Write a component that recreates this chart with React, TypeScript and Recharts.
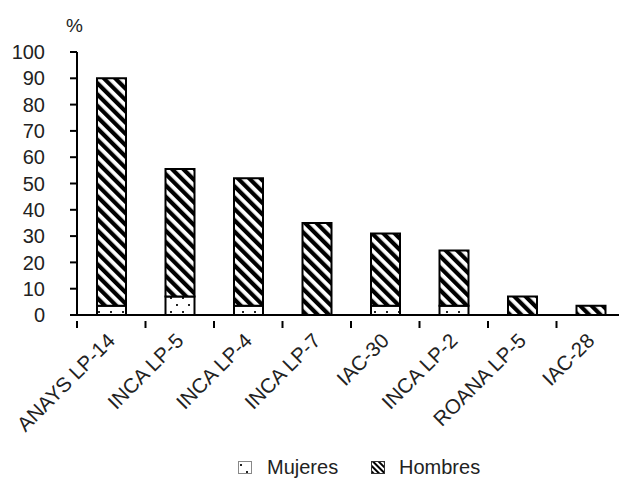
import React from 'react';
import { BarChart, Bar, XAxis, YAxis, Legend } from 'recharts';

// values (percent)
const categories = ['ANAYS LP-14', 'INCA LP-5', 'INCA LP-4', 'INCA LP-7', 'IAC-30', 'INCA LP-2', 'ROANA LP-5', 'IAC-28'];
const mujeres = [3.5, 7, 3.5, 0, 3.5, 3.5, 0, 0];
const hombres = [86.5, 48.5, 48.5, 35, 27.5, 21, 7, 3.5];
const yTicks = [0, 10, 20, 30, 40, 50, 60, 70, 80, 90, 100];

const data = categories.map((name, i) => ({ name, mujeres: mujeres[i], hombres: hombres[i] }));

const W = 619;
const H = 484;
const PLOT_LEFT = 77;
const MARGIN_RIGHT = -6;
const BAND = (W - PLOT_LEFT - MARGIN_RIGHT) / categories.length;
const FONT = '"Liberation Sans", Arial, sans-serif';

const XTick = (props: any) => {
  const { x, y, payload } = props;
  const ax = x + 5;
  const ay = y + 19;
  return (
    <g>
      <line x1={x + BAND / 2} y1={y - 2} x2={x + BAND / 2} y2={y + 5} stroke="#000" strokeWidth={2} />
      {payload.index === 0 && (
        <line x1={x - BAND / 2} y1={y - 2} x2={x - BAND / 2} y2={y + 5} stroke="#000" strokeWidth={2} />
      )}
      <text x={ax} y={ay} transform={`rotate(-45, ${ax}, ${ay})`} textAnchor="end" fontSize={20.5} fill="#222" fontFamily={FONT}>
        {payload.value}
      </text>
    </g>
  );
};

const LegendContent = () => (
  <div style={{ position: 'relative', height: 29, fontFamily: FONT, fontSize: 20, color: '#222' }}>
    <svg width={16} height={14} style={{ position: 'absolute', left: 238, top: 16 }}>
      <rect x={0.5} y={0.5} width={13} height={12} fill="url(#dots)" stroke="#888" />
    </svg>
    <span style={{ position: 'absolute', left: 267, top: 10, lineHeight: '24px' }}>Mujeres</span>
    <svg width={16} height={14} style={{ position: 'absolute', left: 371, top: 16 }}>
      <rect x={0.5} y={0.5} width={13} height={12} fill="url(#stripesSmall)" stroke="#333" />
    </svg>
    <span style={{ position: 'absolute', left: 399, top: 10, lineHeight: '24px' }}>Hombres</span>
  </div>
);

export default function App() {
  return (
    <div style={{ position: 'absolute', left: 0, top: 0, width: W, height: H, background: '#fff' }}>
      <svg width={0} height={0} style={{ position: 'absolute' }}>
        <defs>
          <pattern id="stripes" patternUnits="userSpaceOnUse" width={8} height={8} patternTransform="rotate(-45)">
            <rect x={0} y={0} width={8} height={8} fill="#fff" />
            <rect x={0} y={0} width={4.2} height={8} fill="#000" />
          </pattern>
          <pattern id="stripesSmall" patternUnits="userSpaceOnUse" width={4} height={4} patternTransform="rotate(-45)">
            <rect x={0} y={0} width={4} height={4} fill="#fff" />
            <rect x={0} y={0} width={2} height={4} fill="#000" />
          </pattern>
          <pattern id="dots" patternUnits="userSpaceOnUse" width={12} height={14}>
            <rect x={0} y={0} width={12} height={14} fill="#fff" />
            <rect x={2} y={3} width={2} height={2} fill="#222" />
            <rect x={8} y={10} width={2} height={2} fill="#222" />
          </pattern>
        </defs>
      </svg>
      <div style={{ position: 'absolute', left: 66, top: 15, fontFamily: FONT, fontSize: 19, color: '#222' }}>%</div>
      <BarChart
        width={W}
        height={H}
        data={data}
        margin={{ top: 52, right: MARGIN_RIGHT, left: 0, bottom: 10 }}
        barSize={29}
      >
        <YAxis
          width={PLOT_LEFT}
          domain={[0, 100]}
          ticks={yTicks}
          interval={0}
          axisLine={{ stroke: '#000', strokeWidth: 2 }}
          tickLine={{ stroke: '#000', strokeWidth: 2 }}
          tickSize={7}
          tickMargin={25}
          tick={{ fontSize: 20, fill: '#222', fontFamily: FONT }}
        />
        <XAxis
          dataKey="name"
          height={130}
          interval={0}
          axisLine={{ stroke: '#000', strokeWidth: 2 }}
          tickLine={false}
          tick={<XTick />}
        />
        <Legend verticalAlign="bottom" height={29} content={<LegendContent />} />
        <Bar dataKey="mujeres" name="Mujeres" stackId="a" fill="url(#dots)" stroke="#000" strokeWidth={2} isAnimationActive={false} />
        <Bar dataKey="hombres" name="Hombres" stackId="a" fill="url(#stripes)" stroke="#000" strokeWidth={2} isAnimationActive={false} />
      </BarChart>
    </div>
  );
}
